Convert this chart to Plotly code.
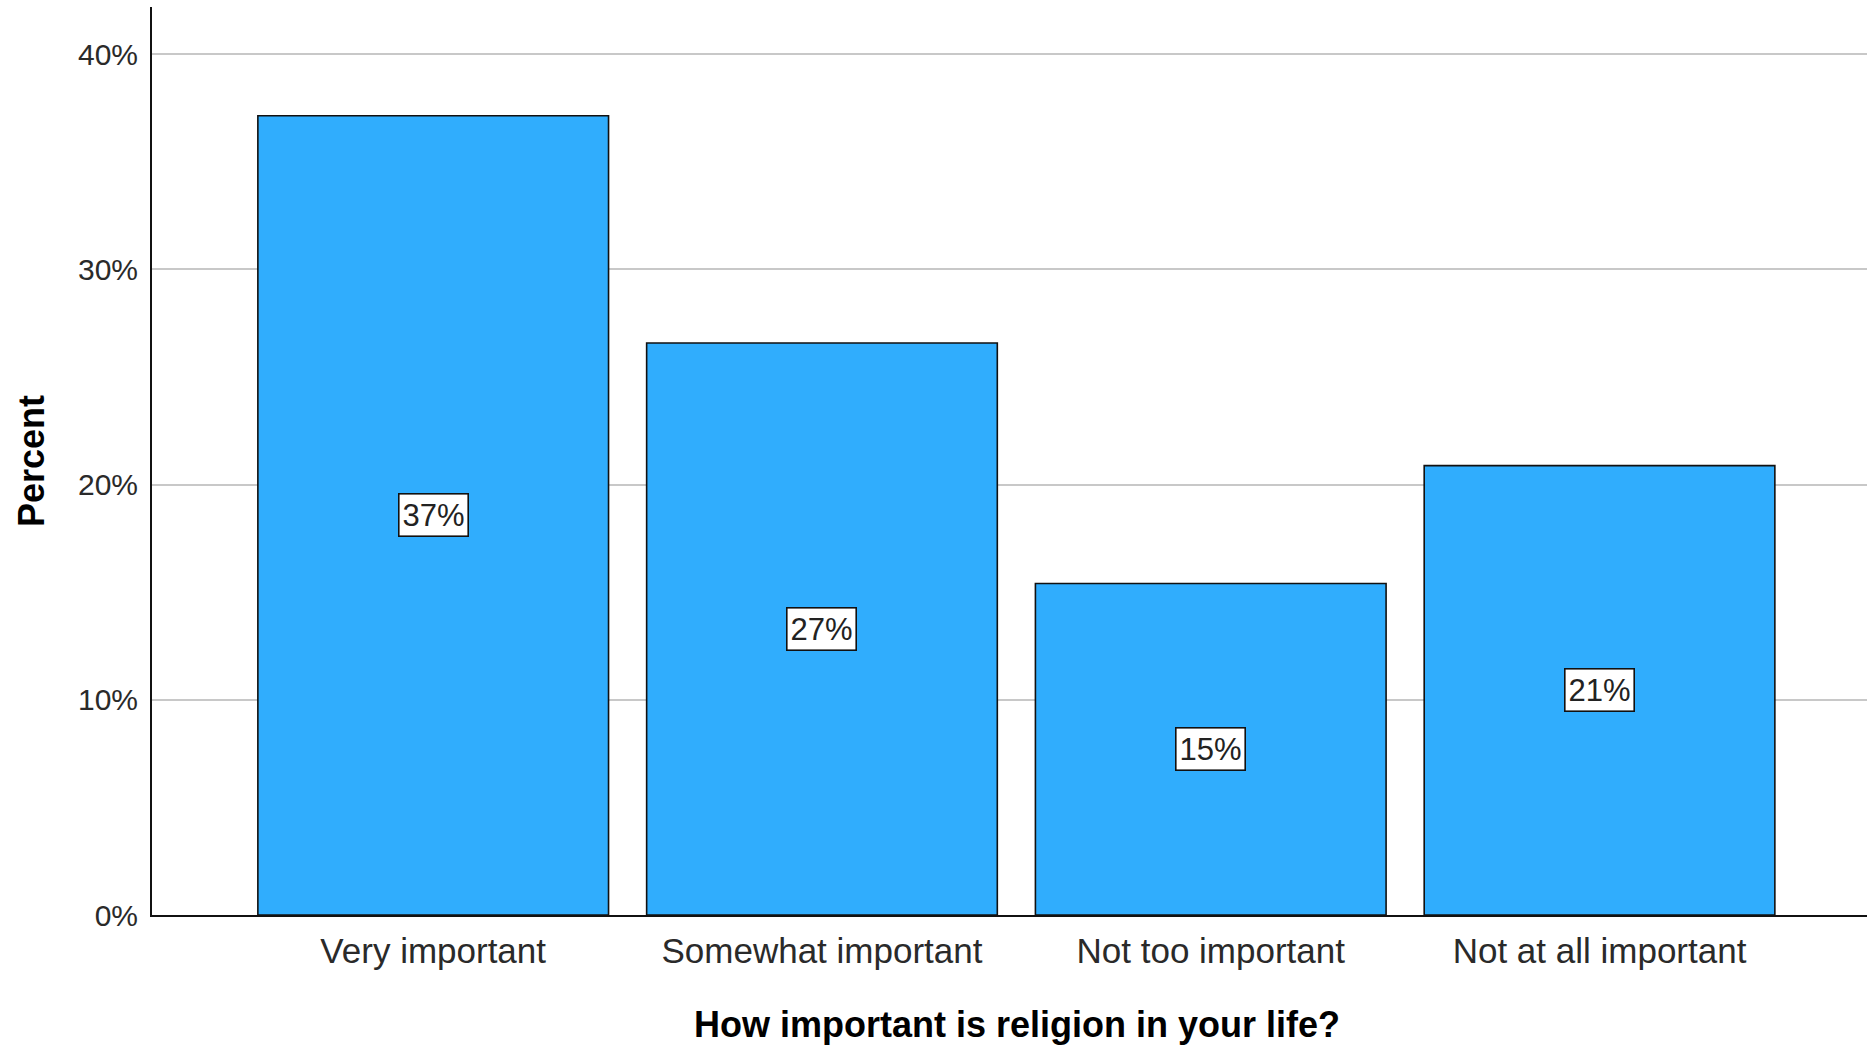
import plotly.graph_objects as go

categories = ["Very important", "Somewhat important", "Not too important", "Not at all important"]
percent_values = [37.14, 26.58, 15.40, 20.88]
y_tick_values = [0, 10, 20, 30, 40]
y_tick_labels = ["0%", "10%", "20%", "30%", "40%"]
x_title = "How important is religion in your life?"
y_title = "Percent"

BAR_COLOR = "#30ADFD"
FONT = "Liberation Sans, Arial, sans-serif"

fig = go.Figure()
fig.add_trace(go.Bar(
    x=list(range(len(categories))),
    y=percent_values,
    width=0.902,
    marker=dict(color=BAR_COLOR, line=dict(color="#111111", width=1.6)),
    hoverinfo="skip",
))

for i, v in enumerate(percent_values):
    fig.add_annotation(
        x=i, y=v / 2, xref="x", yref="y",
        text=f"{round(v)}%", showarrow=False,
        font=dict(family=FONT, size=31, color="#222222"),
        bgcolor="white", bordercolor="#111111", borderwidth=1.6, borderpad=3,
    )

# x-axis title (placed as paper annotation for precise centring)
fig.add_annotation(
    x=0.5, y=0, xref="paper", yref="paper",
    xanchor="center", yanchor="middle", xshift=7, yshift=-109,
    text=f"<b>{x_title}</b>", showarrow=False,
    font=dict(family=FONT, size=36, color="#000000"),
)

fig.update_layout(
    width=1867, height=1048,
    margin=dict(l=152, r=0, t=7, b=133),
    plot_bgcolor="white", paper_bgcolor="white",
    showlegend=False,
    font=dict(family=FONT, color="#222222"),
    bargap=0.1,
)

fig.update_xaxes(
    range=[-0.7233, 3.688],
    tickmode="array",
    tickvals=list(range(len(categories))),
    ticktext=categories,
    tickfont=dict(family=FONT, size=35, color="#2a2a2a"),
    showgrid=False, zeroline=False,
    showline=True, linecolor="#111111", linewidth=2,
    ticks="", ticklabelstandoff=4,
)

fig.update_yaxes(
    range=[0, 42.19],
    tickmode="array",
    tickvals=y_tick_values,
    ticktext=y_tick_labels,
    tickfont=dict(family=FONT, size=30, color="#2a2a2a"),
    showgrid=True, gridcolor="#C8C8C8", gridwidth=2,
    zeroline=False,
    showline=True, linecolor="#111111", linewidth=2,
    ticks="", ticklabelstandoff=6,
    title=dict(text=f"<b>{y_title}</b>", font=dict(family=FONT, size=36, color="#000000"), standoff=22),
)

fig.write_html(
    "out.html",
    config={"displayModeBar": False},
    post_script="document.body.style.margin='0';document.body.style.overflow='hidden';",
)
